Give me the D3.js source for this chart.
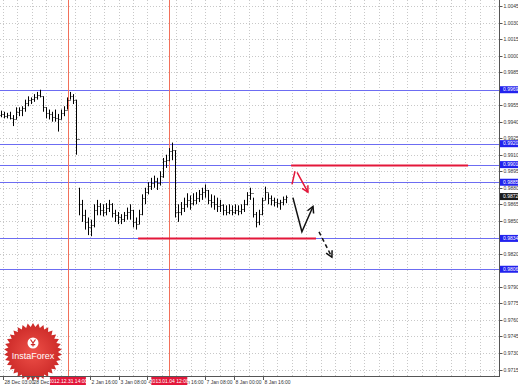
<!DOCTYPE html>
<html>
<head>
<meta charset="utf-8">
<script src="https://cdn.jsdelivr.net/npm/d3@7/dist/d3.min.js"></script>
<style>
  body { margin: 0; background: #fff; }
  #chart { width: 518px; height: 385px; }
  text { font-family: "Liberation Sans", Arial, sans-serif; }
</style>
</head>
<body>
<div id="chart"></div>
<script>
//Colores fijos
const COLOR_BAR = '#000',
    COLOR_GRID = '#c8c8c8',
    COLOR_LEVEL = '#6c6cf2',
    COLOR_LEVEL_BOX = '#2222ee',
    COLOR_RED = '#e3173a',
    COLOR_VLINE = '#f2705a',
    COLOR_AXIS_TEXT = '#333';

//Datos (H1, 28 Dec - 8 Jan)
const highs = [0.9950, 0.9949, 0.9948, 0.9949, 0.9946, 0.9953, 0.9953, 0.9954, 0.9960, 0.9963,
    0.9962, 0.9965, 0.9967, 0.9969, 0.9963, 0.9953, 0.9951, 0.9949, 0.9951, 0.9947,
    0.9951, 0.9954, 0.9962, 0.9967, 0.9965, 0.9960, 0.9880, 0.9869, 0.9860, 0.9853,
    0.9851, 0.9865, 0.9869, 0.9866, 0.9865, 0.9866, 0.9869, 0.9866, 0.9860, 0.9858,
    0.9856, 0.9858, 0.9862, 0.9865, 0.9860, 0.9853, 0.9860, 0.9874, 0.9880, 0.9885,
    0.9889, 0.9891, 0.9889, 0.9895, 0.9907, 0.9910, 0.9916, 0.9921, 0.9914, 0.9865,
    0.9867, 0.9871, 0.9875, 0.9873, 0.9875, 0.9876, 0.9878, 0.9880, 0.9883, 0.9878,
    0.9874, 0.9873, 0.9871, 0.9869, 0.9865, 0.9864, 0.9865, 0.9864, 0.9865, 0.9864,
    0.9865, 0.9869, 0.9876, 0.9880, 0.9871, 0.9858, 0.9860, 0.9871, 0.9881, 0.9875,
    0.9873, 0.9871, 0.9870, 0.9869, 0.9872, 0.9873];
const lows = [0.9944, 0.9943, 0.9943, 0.9942, 0.9936, 0.9942, 0.9945, 0.9945, 0.9949, 0.9954,
    0.9956, 0.9958, 0.9960, 0.9962, 0.9949, 0.9943, 0.9942, 0.9940, 0.9940, 0.9931,
    0.9942, 0.9945, 0.9951, 0.9960, 0.9956, 0.9910, 0.9855, 0.9849, 0.9842, 0.9837,
    0.9836, 0.9844, 0.9855, 0.9855, 0.9854, 0.9855, 0.9858, 0.9853, 0.9849, 0.9847,
    0.9847, 0.9849, 0.9851, 0.9851, 0.9844, 0.9842, 0.9847, 0.9855, 0.9865, 0.9874,
    0.9878, 0.9880, 0.9878, 0.9882, 0.9889, 0.9898, 0.9904, 0.9905, 0.9853, 0.9849,
    0.9855, 0.9858, 0.9862, 0.9860, 0.9864, 0.9865, 0.9867, 0.9869, 0.9871, 0.9865,
    0.9862, 0.9860, 0.9858, 0.9858, 0.9855, 0.9855, 0.9856, 0.9855, 0.9856, 0.9855,
    0.9856, 0.9858, 0.9864, 0.9869, 0.9853, 0.9844, 0.9846, 0.9855, 0.9869, 0.9865,
    0.9864, 0.9863, 0.9862, 0.9860, 0.9864, 0.9866];
const closes = [0.9947, 0.9945, 0.9946, 0.9943, 0.9942, 0.9949, 0.9951, 0.9952, 0.9957, 0.9960,
    0.9961, 0.9962, 0.9964, 0.9963, 0.9953, 0.9948, 0.9947, 0.9944, 0.9943, 0.9942,
    0.9948, 0.9951, 0.9960, 0.9963, 0.9960, 0.9924, 0.9865, 0.9855, 0.9849, 0.9844,
    0.9846, 0.9860, 0.9863, 0.9860, 0.9858, 0.9862, 0.9865, 0.9857, 0.9855, 0.9853,
    0.9852, 0.9855, 0.9858, 0.9860, 0.9849, 0.9847, 0.9856, 0.9871, 0.9876, 0.9882,
    0.9884, 0.9886, 0.9884, 0.9891, 0.9904, 0.9905, 0.9913, 0.9914, 0.9858, 0.9858,
    0.9862, 0.9865, 0.9869, 0.9866, 0.9869, 0.9871, 0.9874, 0.9876, 0.9878, 0.9869,
    0.9867, 0.9865, 0.9863, 0.9864, 0.9860, 0.9858, 0.9860, 0.9858, 0.9860, 0.9859,
    0.9861, 0.9865, 0.9873, 0.9875, 0.9856, 0.9849, 0.9856, 0.9869, 0.9876, 0.9871,
    0.9869, 0.9867, 0.9866, 0.9867, 0.9870, 0.9872];
const firstOpen = 0.9946;

//Etiquetas del eje de tiempo (una cada 16 barras H1)
const timeLabels = ['28 Dec 03:00', '28 Dec 19:00', '31 Dec 11:00', '2 Jan 16:00', '3 Jan 08:00',
    '4 Jan 00:00', '4 Jan 16:00', '7 Jan 08:00', '8 Jan 00:00', '8 Jan 16:00'];
const timeLabelFirst = 0.67, timeLabelEvery = 9.63; //en muestras

//Lineas verticales marcadas
const markedTimes = [22.3, 56.1];
const markedTimeLabels = ['2012.12.31 14:00', '2013.01.04 12:00'];

//Niveles horizontales (azul) y tramos rojos
const levels = [0.9969, 0.9920, 0.9901, 0.9885, 0.9834, 0.9806];
const redSegments = [
    {price: 0.9901, from: 96.7, to: 155.7},
    {price: 0.9834, from: 45.7, to: 105}
];

//Flechas de escenario
const redArrow = [[97, 0.9883], [98, 0.9895], [98.7, 0.9894], [102.3, 0.9876]];
const blackArrow = [[97.3, 0.9871], [100.3, 0.9840], [104, 0.9863]];
const dashArrow = [[106, 0.9840], [110.3, 0.9817]];

//Escala de precios
const priceMin = 0.9715, priceMax = 1.0045, priceStep = 0.0015;

let width = 499, height = 376;

let svg = d3.select('#chart')
    .append('svg')
        .attr('width', 518)
        .attr('height', 385);

let x = d3.scaleLinear()
    .domain([0, 166])
    .range([1, 499]);

let y = d3.scaleLinear()
    .domain([priceMin, priceMax])
    .range([369.5, 6]);

const px = v => Math.round(v) + 0.5;

//Rejilla punteada
let priceTicks = d3.range(0, Math.round((priceMax - priceMin) / priceStep) + 1).map(k => priceMin + k * priceStep);
let gridTimes = d3.range(0, 35).map(k => timeLabelFirst + k * timeLabelEvery / 2).filter(t => x(t) < width);

let grid = svg.append('g');
grid.selectAll('.hg')
    .data(priceTicks.filter(p => levels.every(l => Math.abs(y(l) - y(p)) > 1.5)))
    .enter()
    .append('line')
    .attr('x1', 0).attr('x2', width)
    .attr('y1', d => px(y(d))).attr('y2', d => px(y(d)))
    .attr('stroke', COLOR_GRID)
    .attr('stroke-dasharray', '1,2');
grid.selectAll('.vg')
    .data(gridTimes)
    .enter()
    .append('line')
    .attr('y1', 0).attr('y2', height)
    .attr('x1', d => px(x(d))).attr('x2', d => px(x(d)))
    .attr('stroke', COLOR_GRID)
    .attr('stroke-dasharray', '1,2');

//Logo InstaForex
let logo = svg.append('g').attr('transform', 'translate(33,352)');
let defs = svg.append('defs');
let grad = defs.append('radialGradient').attr('id', 'logoGrad');
grad.append('stop').attr('offset', '0%').attr('stop-color', '#ee5048');
grad.append('stop').attr('offset', '100%').attr('stop-color', '#cc2a28');
let nSpikes = 34;
let starPts = d3.range(nSpikes * 2).map(k => {
    let r = k % 2 === 0 ? 29 : 25;
    let a = k * Math.PI / nSpikes;
    return [r * Math.sin(a), -r * Math.cos(a)];
});
logo.append('path')
    .attr('d', d3.line()(starPts) + 'Z')
    .attr('fill', 'url(#logoGrad)');
logo.append('circle').attr('cy', -9).attr('r', 5.5).attr('fill', '#fff');
logo.append('path')
    .attr('d', 'M-2.5,-12.5 L0,-9 L2.5,-12.5 M0,-9 L0,-5.5 M-2.2,-7.3 L2.2,-7.3')
    .attr('stroke', '#cc2a28').attr('stroke-width', 1.2).attr('fill', 'none');
logo.append('text')
    .attr('y', 7)
    .attr('text-anchor', 'middle')
    .attr('fill', '#fff')
    .style('font-size', '9px')
    .text('InstaForex');

//Niveles azules
svg.append('g')
    .selectAll('line')
    .data(levels)
    .enter()
    .append('line')
    .attr('x1', 0).attr('x2', width)
    .attr('y1', d => px(y(d))).attr('y2', d => px(y(d)))
    .attr('stroke', COLOR_LEVEL)
    .attr('stroke-width', 1);

//Lineas verticales rojas
svg.append('g')
    .selectAll('line')
    .data(markedTimes)
    .enter()
    .append('line')
    .attr('y1', 0).attr('y2', height)
    .attr('x1', d => px(x(d))).attr('x2', d => px(x(d)))
    .attr('stroke', COLOR_VLINE)
    .attr('stroke-width', 1);

//Barras OHLC
let bars = svg.append('g')
    .selectAll('g')
    .data(highs.map((h, i) => ({i: i, h: h, l: lows[i], c: closes[i], o: i === 0 ? firstOpen : closes[i - 1]})))
    .enter()
    .append('g')
    .attr('stroke', COLOR_BAR)
    .attr('stroke-width', 1);
bars.append('line')
    .attr('x1', d => px(x(d.i))).attr('x2', d => px(x(d.i)))
    .attr('y1', d => y(d.h)).attr('y2', d => y(d.l));
bars.append('line')
    .attr('x1', d => px(x(d.i)) - 1).attr('x2', d => px(x(d.i)))
    .attr('y1', d => px(y(d.o))).attr('y2', d => px(y(d.o)));
bars.append('line')
    .attr('x1', d => px(x(d.i))).attr('x2', d => px(x(d.i)) + 1)
    .attr('y1', d => px(y(d.c))).attr('y2', d => px(y(d.c)));

//Tramos rojos
svg.append('g')
    .selectAll('line')
    .data(redSegments)
    .enter()
    .append('line')
    .attr('x1', d => x(d.from)).attr('x2', d => x(d.to))
    .attr('y1', d => px(y(d.price))).attr('y2', d => px(y(d.price)))
    .attr('stroke', COLOR_RED)
    .attr('stroke-width', 2);

//Flechas
let line = d3.line().x(d => x(d[0])).y(d => y(d[1]));
function arrowHead(g, pts, color) {
    let a = pts[pts.length - 2], b = pts[pts.length - 1];
    let x1 = x(a[0]), y1 = y(a[1]), x2 = x(b[0]), y2 = y(b[1]);
    let ang = Math.atan2(y2 - y1, x2 - x1);
    let len = 7, spread = 0.5;
    let p1 = [x2 - len * Math.cos(ang - spread), y2 - len * Math.sin(ang - spread)];
    let p2 = [x2 - len * Math.cos(ang + spread), y2 - len * Math.sin(ang + spread)];
    g.append('path')
        .attr('d', 'M' + p1 + 'L' + [x2, y2] + 'L' + p2)
        .attr('fill', 'none')
        .attr('stroke', color)
        .attr('stroke-width', 1.5);
}
let arrows = svg.append('g');
arrows.append('path')
    .attr('d', line(redArrow.slice(0, 2)) + line(redArrow.slice(2)))
    .attr('fill', 'none').attr('stroke', COLOR_RED).attr('stroke-width', 1.5);
arrowHead(arrows, redArrow, COLOR_RED);
arrows.append('path')
    .attr('d', line(blackArrow))
    .attr('fill', 'none').attr('stroke', '#111').attr('stroke-width', 1.5);
arrowHead(arrows, blackArrow, '#111');
arrows.append('path')
    .attr('d', line(dashArrow))
    .attr('fill', 'none').attr('stroke', '#111').attr('stroke-width', 1.5)
    .attr('stroke-dasharray', '4,3');
arrowHead(arrows, dashArrow, '#111');

//Ejes
svg.append('line')
    .attr('x1', px(width)).attr('x2', px(width))
    .attr('y1', 0).attr('y2', height + 1)
    .attr('stroke', '#555');
svg.append('line')
    .attr('x1', 0).attr('x2', width + 1)
    .attr('y1', px(height)).attr('y2', px(height))
    .attr('stroke', '#555');

let yAxis = svg.append('g')
    .selectAll('g')
    .data(priceTicks.filter(p => levels.every(l => Math.abs(y(l) - y(p)) > 5)))
    .enter()
    .append('g')
    .attr('transform', d => 'translate(' + px(width) + ',' + px(y(d)) + ')');
yAxis.append('line').attr('x2', 3).attr('stroke', '#555');
yAxis.append('text')
    .attr('x', 4)
    .attr('dy', '0.35em')
    .attr('fill', COLOR_AXIS_TEXT)
    .style('font-size', '5px')
    .text(d => d.toFixed(4));

//Eje de tiempo: las etiquetas tapadas por las cajas rojas se recortan
let boxHalf = 18;
let boxEdges = markedTimes.map(t => [x(t) - boxHalf, x(t) + boxHalf]);
let labelTimes = timeLabels.map((t, k) => ({t: t, pos: timeLabelFirst + k * timeLabelEvery}))
    .filter(d => !boxEdges.some(e => x(d.pos) > e[0] && x(d.pos) + 24 < e[1]));
labelTimes.forEach((d, k) => {
    let lx = x(d.pos);
    let next = boxEdges.find(e => e[0] > lx && e[0] < lx + 26);
    let after = boxEdges.find(e => lx > e[0] && lx < e[1]);
    d.clipFrom = after ? after[1] : lx;
    d.clipTo = next ? next[0] : lx + 40;
    d.id = 'xclip' + k;
});
defs.selectAll('clipPath')
    .data(labelTimes)
    .enter()
    .append('clipPath')
    .attr('id', d => d.id)
    .append('rect')
    .attr('x', d => d.clipFrom).attr('width', d => d.clipTo - d.clipFrom)
    .attr('y', height).attr('height', 9);
let xAxis = svg.append('g')
    .selectAll('g')
    .data(labelTimes)
    .enter()
    .append('g');
xAxis.append('line')
    .attr('x1', d => px(x(d.pos))).attr('x2', d => px(x(d.pos)))
    .attr('y1', height).attr('y2', height + 4)
    .attr('stroke', '#555');
xAxis.append('text')
    .attr('x', d => px(x(d.pos)) + 1)
    .attr('y', height + 7.5)
    .attr('clip-path', d => 'url(#' + d.id + ')')
    .attr('fill', COLOR_AXIS_TEXT)
    .style('font-size', '5px')
    .text(d => d.t);

//Etiquetas de niveles en el eje de precios
let lastClose = closes[closes.length - 1];
let priceBoxes = levels.map(p => ({p: p, fill: COLOR_LEVEL_BOX})).concat([{p: lastClose, fill: '#1a1a1a'}]);
let boxes = svg.append('g')
    .selectAll('g')
    .data(priceBoxes)
    .enter()
    .append('g')
    .attr('transform', d => 'translate(' + (width + 1) + ',' + y(d.p) + ')');
boxes.append('rect')
    .attr('y', -3.5).attr('width', 18).attr('height', 7)
    .attr('fill', d => d.fill);
boxes.append('text')
    .attr('x', 3)
    .attr('dy', '0.35em')
    .attr('fill', '#fff')
    .style('font-size', '5px')
    .text(d => d.p.toFixed(4));

//Etiquetas rojas de las lineas verticales
let tBoxes = svg.append('g')
    .selectAll('g')
    .data(markedTimes.map((t, k) => ({t: t, label: markedTimeLabels[k]})))
    .enter()
    .append('g')
    .attr('transform', d => 'translate(' + x(d.t) + ',' + (height + 1) + ')');
tBoxes.append('rect')
    .attr('x', -boxHalf).attr('width', boxHalf * 2).attr('height', 8)
    .attr('fill', COLOR_RED);
tBoxes.append('text')
    .attr('y', 6)
    .attr('text-anchor', 'middle')
    .attr('fill', '#fff')
    .style('font-size', '5px')
    .text(d => d.label);
</script>
</body>
</html>
